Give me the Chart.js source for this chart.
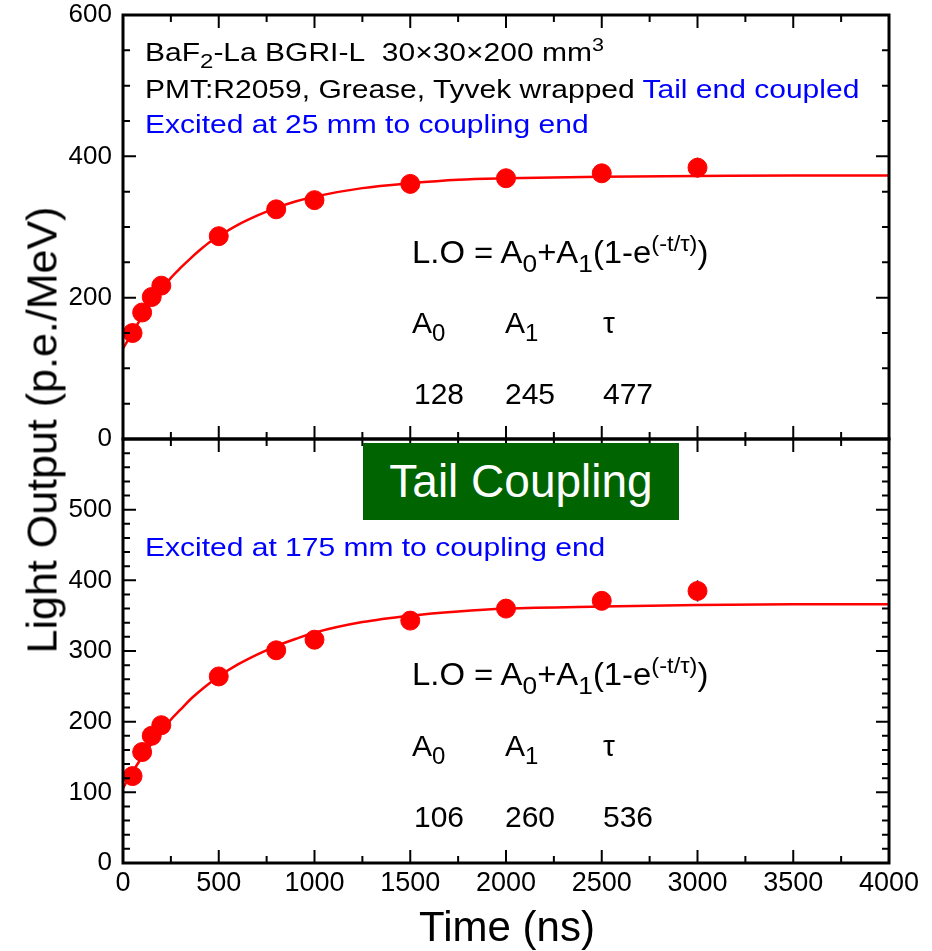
<!DOCTYPE html>
<html>
<head>
<meta charset="utf-8">
<script src="https://cdn.jsdelivr.net/npm/chart.js@4.4.1/dist/chart.umd.min.js"></script>
<style>
  body { margin: 0; background: #fff; }
  #wrap { position: relative; width: 932px; height: 951px; overflow: hidden;
          font-family: "Liberation Sans", Arial, sans-serif; color: #000; }
  canvas { position: absolute; left: 0; }
  .t { position: absolute; white-space: nowrap; line-height: 1; }
  .note { font-size: 25px; transform: scaleX(1.2); transform-origin: left top; }
  .blue { color: #0000ff; }
  .fit { font-size: 30px; }
  .formula { font-size: 31px; transform: scaleX(1.06); transform-origin: left top; }
  sub { font-size: 0.8em; vertical-align: -0.35em; line-height: 0; }
  sup { font-size: 0.72em; vertical-align: 0.55em; line-height: 0; }
</style>
</head>
<body>
<div id="wrap">
  <canvas id="topPanel" width="932" height="470" style="top:0"></canvas>
  <canvas id="bottomPanel" width="932" height="551" style="top:400px"></canvas>

  <!-- annotations, top panel -->
  <div class="t note" style="left:145px; top:40px">BaF<sub>2</sub>-La BGRI-L&nbsp;&nbsp;30×30×200 mm<sup>3</sup></div>
  <div class="t note" style="left:145px; top:77px">PMT:R2059, Grease, Tyvek wrapped <span class="blue">Tail end coupled</span></div>
  <div class="t note blue" style="left:145px; top:112px">Excited at 25 mm to coupling end</div>

  <div class="t formula" style="left:412px; top:237px">L.O = A<sub>0</sub>+A<sub>1</sub>(1-e<sup>(-t/τ)</sup>)</div>
  <div class="t fit" style="left:412px; top:308px">A<sub>0</sub></div>
  <div class="t fit" style="left:505px; top:308px">A<sub>1</sub></div>
  <div class="t fit" style="left:603px; top:308px">τ</div>
  <div class="t fit" style="left:414px; top:379px">128</div>
  <div class="t fit" style="left:505px; top:379px">245</div>
  <div class="t fit" style="left:603px; top:379px">477</div>

  <!-- annotations, bottom panel -->
  <div class="t note blue" style="left:145px; top:535px">Excited at 175 mm to coupling end</div>

  <div class="t formula" style="left:412px; top:659px">L.O = A<sub>0</sub>+A<sub>1</sub>(1-e<sup>(-t/τ)</sup>)</div>
  <div class="t fit" style="left:412px; top:731px">A<sub>0</sub></div>
  <div class="t fit" style="left:505px; top:731px">A<sub>1</sub></div>
  <div class="t fit" style="left:603px; top:731px">τ</div>
  <div class="t fit" style="left:414px; top:802px">106</div>
  <div class="t fit" style="left:505px; top:802px">260</div>
  <div class="t fit" style="left:603px; top:802px">536</div>

  <div class="t" style="left:363px; top:443px; width:316px; height:77px; background:#006400; color:#fff;
       font-size:46px; line-height:77px; text-align:center">Tail Coupling</div>

  <!-- axis titles -->
  <div class="t" style="left:42px; top:430px; font-size:43px; transform:translate(-50%,-50%) rotate(-90deg)">Light Output (p.e./MeV)</div>
  <div class="t" style="left:507px; top:927px; font-size:42px; transform:translate(-50%,-50%)">Time (ns)</div>
</div>

<script>
// measured points (ns, p.e./MeV)
const times = [50, 100, 150, 200, 500, 800, 1000, 1500, 2000, 2500, 3000];
const lightTop = [150, 179, 201, 217, 287, 325, 338, 361, 369, 376, 384];
const errTop = [5, 5, 5, 5, 6, 7, 8, 9, 12, 12, 14];
const lightBottom = [123, 157, 180, 195, 264, 301, 316, 343, 360, 371, 385];
const errBottom = [5, 5, 5, 5, 6, 7, 8, 9, 11, 11, 15];

// fit curves
const fitTimes = [0, 50, 100, 150, 200, 250, 300, 350, 400, 450, 500, 600, 700, 800, 900, 1000, 1250, 1500, 1750, 2000, 2500, 3000, 3500, 4000];
const fitTop = [128, 151, 173, 193, 211, 228, 242, 255, 267, 278, 287, 303, 316, 327, 336, 343, 355, 362, 367, 369, 371, 372, 373, 373];
const fitBottom = [106, 129, 150, 169, 187, 203, 217, 231, 243, 254, 264, 281, 295, 307, 317, 326, 341, 350, 356, 360, 363, 365, 366, 366];

const xTicks = [0, 500, 1000, 1500, 2000, 2500, 3000, 3500, 4000];

Chart.defaults.font.family = '"Liberation Sans", Arial, sans-serif';
Chart.defaults.color = '#000';

// frame with inward ticks on all four sides, plus error bars
const framePlugin = {
  id: 'frame',
  beforeDatasetsDraw(chart, args, opts) {
    const { ctx } = chart;
    const x = chart.scales.x, y = chart.scales.y;
    ctx.save();
    ctx.strokeStyle = '#000';
    ctx.lineWidth = 1.5;
    opts.values.forEach((v, i) => {
      const px = x.getPixelForValue(opts.times[i]);
      ctx.beginPath();
      ctx.moveTo(px, y.getPixelForValue(v - opts.errors[i]));
      ctx.lineTo(px, y.getPixelForValue(v + opts.errors[i]));
      ctx.stroke();
    });
    ctx.restore();
  },
  afterDraw(chart, args, opts) {
    const { ctx, chartArea: a } = chart;
    const x = chart.scales.x, y = chart.scales.y;
    ctx.save();
    ctx.strokeStyle = '#000';
    ctx.lineWidth = 2;
    ctx.beginPath();
    for (let t = 0; t <= 4000; t += 250) {
      const px = x.getPixelForValue(t);
      const len = t % 500 === 0 ? 13 : 7;
      ctx.moveTo(px, a.bottom); ctx.lineTo(px, a.bottom - len);
      ctx.moveTo(px, a.top); ctx.lineTo(px, a.top + len);
    }
    for (let v = 0; v <= 600; v += opts.minor) {
      const py = y.getPixelForValue(v);
      const len = v % opts.major === 0 ? 13 : 7;
      ctx.moveTo(a.left, py); ctx.lineTo(a.left + len, py);
      ctx.moveTo(a.right, py); ctx.lineTo(a.right - len, py);
    }
    ctx.stroke();
    ctx.lineWidth = 3;
    ctx.strokeRect(a.left, a.top, a.right - a.left, a.bottom - a.top);
    ctx.restore();
  }
};

function makePanel(id, values, errors, fit, cfg) {
  const pts = times.map((t, i) => ({ x: t, y: values[i] }));
  const curve = fitTimes.map((t, i) => ({ x: t, y: fit[i] }));
  return new Chart(document.getElementById(id), {
    type: 'scatter',
    data: {
      datasets: [
        {
          type: 'line', data: curve, borderColor: '#ff0000', borderWidth: 2.5,
          pointRadius: 0, cubicInterpolationMode: 'monotone', fill: false
        },
        {
          data: pts, backgroundColor: '#ff0000', borderColor: '#ff0000',
          pointRadius: 9.5, pointHoverRadius: 9.5, clip: false
        }
      ]
    },
    options: {
      responsive: false,
      animation: false,
      events: [],
      layout: { padding: cfg.padding },
      plugins: {
        legend: { display: false },
        tooltip: { enabled: false },
        frame: { times: times, values: values, errors: errors, major: cfg.major, minor: cfg.minor }
      },
      scales: {
        x: {
          type: 'linear', min: 0, max: 4000,
          display: cfg.showX,
          afterBuildTicks: s => { s.ticks = xTicks.map(v => ({ value: v })); },
          grid: { display: false, drawTicks: false }, border: { display: false },
          ticks: { font: { size: 27 }, padding: 4, maxRotation: 0, callback: v => String(v) },
          afterFit: s => {
            if (cfg.xHeight) s.height = cfg.xHeight;
            s.paddingLeft = 0; s.paddingRight = 0;
          }
        },
        y: {
          type: 'linear', min: 0, max: 600,
          grid: { display: false, drawTicks: false }, border: { display: false },
          ticks: {
            stepSize: cfg.major, font: { size: 26 }, padding: 11,
            callback: v => (cfg.hideTop && v === 600) ? '' : String(v)
          },
          afterFit: s => { s.width = 123; s.paddingTop = 0; s.paddingBottom = 0; }
        }
      }
    },
    plugins: [framePlugin]
  });
}

makePanel('topPanel', lightTop, errTop, fitTop, {
  padding: { top: 15, bottom: 31, left: 0, right: 43 },
  showX: false, major: 200, minor: 50, hideTop: false
});

makePanel('bottomPanel', lightBottom, errBottom, fitBottom, {
  padding: { top: 39, bottom: 0, left: 0, right: 43 },
  showX: true, xHeight: 88, major: 100, minor: 20, hideTop: true
});
</script>
</body>
</html>
